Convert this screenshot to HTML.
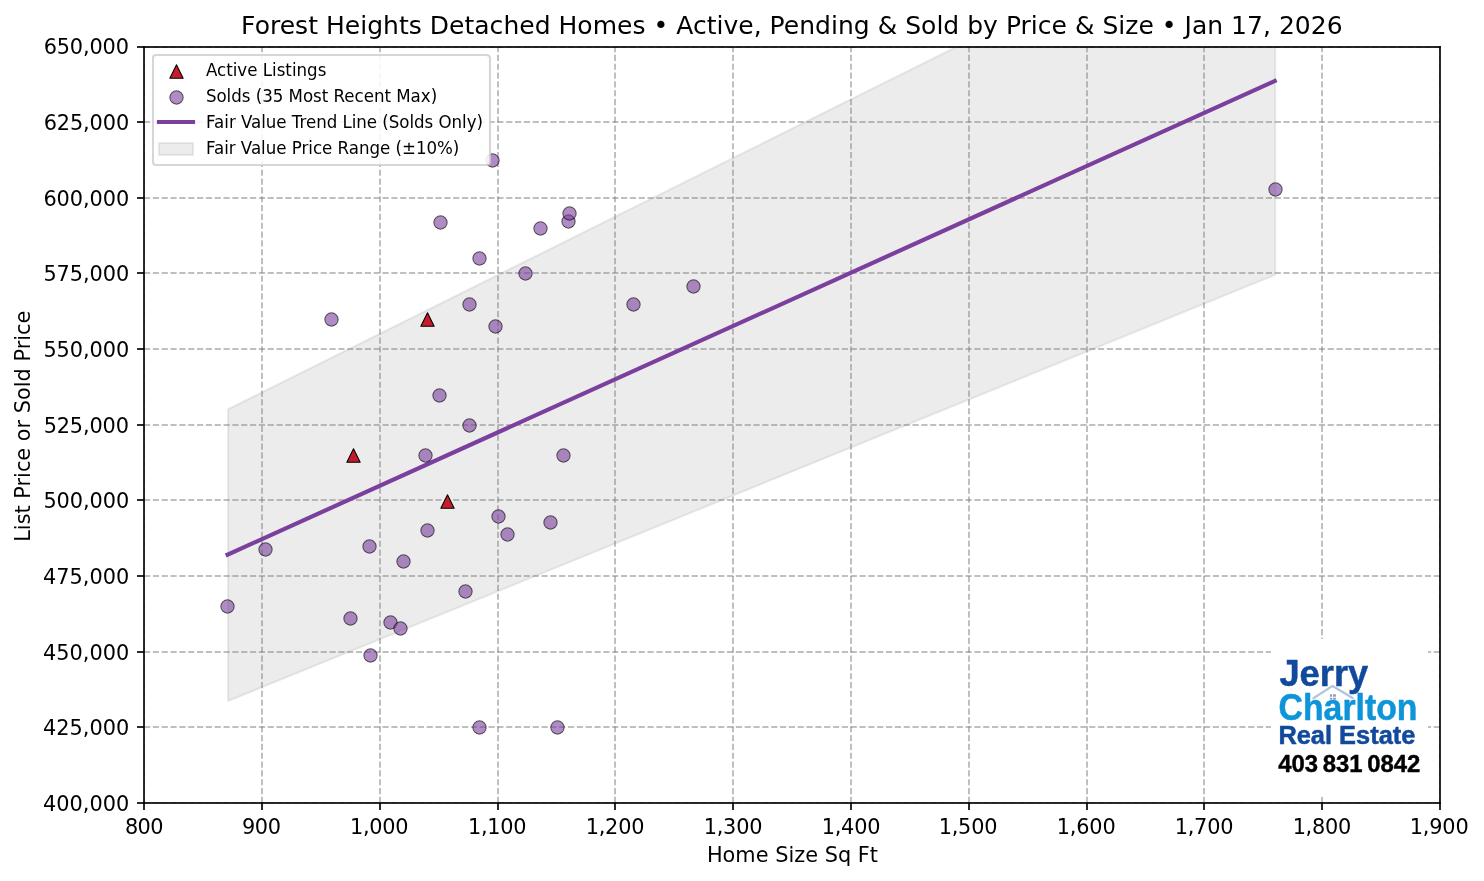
<!DOCTYPE html>
<html lang="en"><head><meta charset="utf-8"><title>Forest Heights Detached Homes</title>
<style>html,body{margin:0;padding:0;background:#fff}body{width:1484px;height:881px;overflow:hidden}svg{display:block}</style>
</head><body>
<svg width="1484" height="881" viewBox="0 0 1484 881" font-family="'DejaVu Sans','Liberation Sans',sans-serif" fill="#000">
<defs><clipPath id="ax"><rect x="144.17" y="46.5" width="1295.96" height="756.58"/></clipPath></defs>
<rect width="1484" height="881" fill="#fff"/>
<g clip-path="url(#ax)">
<path d="M228.08 409.25L228.08 701.04L1275.21 274.81L1275.21 -111.7L1275.21 -111.7L228.08 409.25Z" fill="#808080" fill-opacity="0.15" stroke="#808080" stroke-opacity="0.15" stroke-width="2.08" stroke-linejoin="round"/>
<line x1="144" y1="803" x2="144" y2="47" fill="none" stroke="#808080" stroke-opacity="0.5" stroke-width="2" stroke-dasharray="6.1667 2.6667" stroke-linejoin="round"/>
</g>
<line x1="144" y1="803" x2="144" y2="810" fill="none" stroke="#000000" stroke-opacity="0.83" stroke-width="2" stroke-linejoin="round"/>
<text x="124.99" y="834" font-size="20.83px" textLength="38.41" lengthAdjust="spacing">800</text>
<g clip-path="url(#ax)">
<line x1="262" y1="803" x2="262" y2="47" fill="none" stroke="#808080" stroke-opacity="0.5" stroke-width="2" stroke-dasharray="6.1667 2.6667" stroke-linejoin="round"/>
</g>
<line x1="262" y1="803" x2="262" y2="810" fill="none" stroke="#000000" stroke-opacity="0.83" stroke-width="2" stroke-linejoin="round"/>
<text x="242.02" y="834" font-size="20.83px" textLength="38.88" lengthAdjust="spacing">900</text>
<g clip-path="url(#ax)">
<line x1="380" y1="803" x2="380" y2="47" fill="none" stroke="#808080" stroke-opacity="0.5" stroke-width="2" stroke-dasharray="6.1667 2.6667" stroke-linejoin="round"/>
</g>
<line x1="380" y1="803" x2="380" y2="810" fill="none" stroke="#000000" stroke-opacity="0.83" stroke-width="2" stroke-linejoin="round"/>
<text x="350" y="834" font-size="20.83px" textLength="58.41" lengthAdjust="spacing">1,000</text>
<g clip-path="url(#ax)">
<line x1="498" y1="803" x2="498" y2="47" fill="none" stroke="#808080" stroke-opacity="0.5" stroke-width="2" stroke-dasharray="6.1667 2.6667" stroke-linejoin="round"/>
</g>
<line x1="498" y1="803" x2="498" y2="810" fill="none" stroke="#000000" stroke-opacity="0.83" stroke-width="2" stroke-linejoin="round"/>
<text x="467.91" y="834" font-size="20.83px" textLength="58.49" lengthAdjust="spacing">1,100</text>
<g clip-path="url(#ax)">
<line x1="615" y1="803" x2="615" y2="47" fill="none" stroke="#808080" stroke-opacity="0.5" stroke-width="2" stroke-dasharray="6.1667 2.6667" stroke-linejoin="round"/>
</g>
<line x1="615" y1="803" x2="615" y2="810" fill="none" stroke="#000000" stroke-opacity="0.83" stroke-width="2" stroke-linejoin="round"/>
<text x="585.65" y="834" font-size="20.83px" textLength="58.8" lengthAdjust="spacing">1,200</text>
<g clip-path="url(#ax)">
<line x1="733" y1="803" x2="733" y2="47" fill="none" stroke="#808080" stroke-opacity="0.5" stroke-width="2" stroke-dasharray="6.1667 2.6667" stroke-linejoin="round"/>
</g>
<line x1="733" y1="803" x2="733" y2="810" fill="none" stroke="#000000" stroke-opacity="0.83" stroke-width="2" stroke-linejoin="round"/>
<text x="703.67" y="834" font-size="20.83px" textLength="58.76" lengthAdjust="spacing">1,300</text>
<g clip-path="url(#ax)">
<line x1="851" y1="803" x2="851" y2="47" fill="none" stroke="#808080" stroke-opacity="0.5" stroke-width="2" stroke-dasharray="6.1667 2.6667" stroke-linejoin="round"/>
</g>
<line x1="851" y1="803" x2="851" y2="810" fill="none" stroke="#000000" stroke-opacity="0.83" stroke-width="2" stroke-linejoin="round"/>
<text x="821.66" y="834" font-size="20.83px" textLength="58.78" lengthAdjust="spacing">1,400</text>
<g clip-path="url(#ax)">
<line x1="969" y1="803" x2="969" y2="47" fill="none" stroke="#808080" stroke-opacity="0.5" stroke-width="2" stroke-dasharray="6.1667 2.6667" stroke-linejoin="round"/>
</g>
<line x1="969" y1="803" x2="969" y2="810" fill="none" stroke="#000000" stroke-opacity="0.83" stroke-width="2" stroke-linejoin="round"/>
<text x="938.63" y="834" font-size="20.83px" textLength="58.81" lengthAdjust="spacing">1,500</text>
<g clip-path="url(#ax)">
<line x1="1087" y1="803" x2="1087" y2="47" fill="none" stroke="#808080" stroke-opacity="0.5" stroke-width="2" stroke-dasharray="6.1667 2.6667" stroke-linejoin="round"/>
</g>
<line x1="1087" y1="803" x2="1087" y2="810" fill="none" stroke="#000000" stroke-opacity="0.83" stroke-width="2" stroke-linejoin="round"/>
<text x="1056.69" y="834" font-size="20.83px" textLength="58.97" lengthAdjust="spacing">1,600</text>
<g clip-path="url(#ax)">
<line x1="1204" y1="803" x2="1204" y2="47" fill="none" stroke="#808080" stroke-opacity="0.5" stroke-width="2" stroke-dasharray="6.1667 2.6667" stroke-linejoin="round"/>
</g>
<line x1="1204" y1="803" x2="1204" y2="810" fill="none" stroke="#000000" stroke-opacity="0.83" stroke-width="2" stroke-linejoin="round"/>
<text x="1174.69" y="834" font-size="20.83px" textLength="58.75" lengthAdjust="spacing">1,700</text>
<g clip-path="url(#ax)">
<line x1="1322" y1="803" x2="1322" y2="47" fill="none" stroke="#808080" stroke-opacity="0.5" stroke-width="2" stroke-dasharray="6.1667 2.6667" stroke-linejoin="round"/>
</g>
<line x1="1322" y1="803" x2="1322" y2="810" fill="none" stroke="#000000" stroke-opacity="0.83" stroke-width="2" stroke-linejoin="round"/>
<text x="1292.63" y="834" font-size="20.83px" textLength="58.52" lengthAdjust="spacing">1,800</text>
<g clip-path="url(#ax)">
<line x1="1440" y1="803" x2="1440" y2="47" fill="none" stroke="#808080" stroke-opacity="0.5" stroke-width="2" stroke-dasharray="6.1667 2.6667" stroke-linejoin="round"/>
</g>
<line x1="1440" y1="803" x2="1440" y2="810" fill="none" stroke="#000000" stroke-opacity="0.83" stroke-width="2" stroke-linejoin="round"/>
<text x="1409.63" y="834" font-size="20.83px" textLength="59.02" lengthAdjust="spacing">1,900</text>
<text x="706.88" y="862" font-size="20.83px" textLength="171.1" lengthAdjust="spacing">Home Size Sq Ft</text>
<g clip-path="url(#ax)">
<line x1="144" y1="803" x2="1440" y2="803" fill="none" stroke="#808080" stroke-opacity="0.5" stroke-width="2" stroke-dasharray="6.1667 2.6667" stroke-linejoin="round"/>
</g>
<line x1="144" y1="803" x2="137" y2="803" fill="none" stroke="#000000" stroke-opacity="0.83" stroke-width="2" stroke-linejoin="round"/>
<text x="43.02" y="811" font-size="20.83px" textLength="86.14" lengthAdjust="spacing">400,000</text>
<g clip-path="url(#ax)">
<line x1="144" y1="727" x2="1440" y2="727" fill="none" stroke="#808080" stroke-opacity="0.5" stroke-width="2" stroke-dasharray="6.1667 2.6667" stroke-linejoin="round"/>
</g>
<line x1="144" y1="727" x2="137" y2="727" fill="none" stroke="#000000" stroke-opacity="0.83" stroke-width="2" stroke-linejoin="round"/>
<text x="42.9" y="735" font-size="20.83px" textLength="86.33" lengthAdjust="spacing">425,000</text>
<g clip-path="url(#ax)">
<line x1="144" y1="652" x2="1440" y2="652" fill="none" stroke="#808080" stroke-opacity="0.5" stroke-width="2" stroke-dasharray="6.1667 2.6667" stroke-linejoin="round"/>
</g>
<line x1="144" y1="652" x2="137" y2="652" fill="none" stroke="#000000" stroke-opacity="0.83" stroke-width="2" stroke-linejoin="round"/>
<text x="42.9" y="660" font-size="20.83px" textLength="86.31" lengthAdjust="spacing">450,000</text>
<g clip-path="url(#ax)">
<line x1="144" y1="576" x2="1440" y2="576" fill="none" stroke="#808080" stroke-opacity="0.5" stroke-width="2" stroke-dasharray="6.1667 2.6667" stroke-linejoin="round"/>
</g>
<line x1="144" y1="576" x2="137" y2="576" fill="none" stroke="#000000" stroke-opacity="0.83" stroke-width="2" stroke-linejoin="round"/>
<text x="42.93" y="584" font-size="20.83px" textLength="86.27" lengthAdjust="spacing">475,000</text>
<g clip-path="url(#ax)">
<line x1="144" y1="500" x2="1440" y2="500" fill="none" stroke="#808080" stroke-opacity="0.5" stroke-width="2" stroke-dasharray="6.1667 2.6667" stroke-linejoin="round"/>
</g>
<line x1="144" y1="500" x2="137" y2="500" fill="none" stroke="#000000" stroke-opacity="0.83" stroke-width="2" stroke-linejoin="round"/>
<text x="43.39" y="508" font-size="20.83px" textLength="85.78" lengthAdjust="spacing">500,000</text>
<g clip-path="url(#ax)">
<line x1="144" y1="425" x2="1440" y2="425" fill="none" stroke="#808080" stroke-opacity="0.5" stroke-width="2" stroke-dasharray="6.1667 2.6667" stroke-linejoin="round"/>
</g>
<line x1="144" y1="425" x2="137" y2="425" fill="none" stroke="#000000" stroke-opacity="0.83" stroke-width="2" stroke-linejoin="round"/>
<text x="43.65" y="433" font-size="20.83px" textLength="85.26" lengthAdjust="spacing">525,000</text>
<g clip-path="url(#ax)">
<line x1="144" y1="349" x2="1440" y2="349" fill="none" stroke="#808080" stroke-opacity="0.5" stroke-width="2" stroke-dasharray="6.1667 2.6667" stroke-linejoin="round"/>
</g>
<line x1="144" y1="349" x2="137" y2="349" fill="none" stroke="#000000" stroke-opacity="0.83" stroke-width="2" stroke-linejoin="round"/>
<text x="43.39" y="357" font-size="20.83px" textLength="85.78" lengthAdjust="spacing">550,000</text>
<g clip-path="url(#ax)">
<line x1="144" y1="273" x2="1440" y2="273" fill="none" stroke="#808080" stroke-opacity="0.5" stroke-width="2" stroke-dasharray="6.1667 2.6667" stroke-linejoin="round"/>
</g>
<line x1="144" y1="273" x2="137" y2="273" fill="none" stroke="#000000" stroke-opacity="0.83" stroke-width="2" stroke-linejoin="round"/>
<text x="43.42" y="281" font-size="20.83px" textLength="85.76" lengthAdjust="spacing">575,000</text>
<g clip-path="url(#ax)">
<line x1="144" y1="198" x2="1440" y2="198" fill="none" stroke="#808080" stroke-opacity="0.5" stroke-width="2" stroke-dasharray="6.1667 2.6667" stroke-linejoin="round"/>
</g>
<line x1="144" y1="198" x2="137" y2="198" fill="none" stroke="#000000" stroke-opacity="0.83" stroke-width="2" stroke-linejoin="round"/>
<text x="43.38" y="206" font-size="20.83px" textLength="85.8" lengthAdjust="spacing">600,000</text>
<g clip-path="url(#ax)">
<line x1="144" y1="122" x2="1440" y2="122" fill="none" stroke="#808080" stroke-opacity="0.5" stroke-width="2" stroke-dasharray="6.1667 2.6667" stroke-linejoin="round"/>
</g>
<line x1="144" y1="122" x2="137" y2="122" fill="none" stroke="#000000" stroke-opacity="0.83" stroke-width="2" stroke-linejoin="round"/>
<text x="43.64" y="130" font-size="20.83px" textLength="85.52" lengthAdjust="spacing">625,000</text>
<g clip-path="url(#ax)">
<line x1="144" y1="47" x2="1440" y2="47" fill="none" stroke="#808080" stroke-opacity="0.5" stroke-width="2" stroke-dasharray="6.1667 2.6667" stroke-linejoin="round"/>
</g>
<line x1="144" y1="47" x2="137" y2="47" fill="none" stroke="#000000" stroke-opacity="0.83" stroke-width="2" stroke-linejoin="round"/>
<text x="43.63" y="54" font-size="20.83px" textLength="85.29" lengthAdjust="spacing">650,000</text>
<text transform="translate(30 541.74) rotate(-90)" font-size="20.83px" textLength="231.04" lengthAdjust="spacing">List Price or Sold Price</text>
<g clip-path="url(#ax)">
<line x1="227.58" y1="554.64" x2="1274.71" y2="81.05" fill="none" stroke="#7b3f9d" stroke-width="4.17" stroke-linecap="square" stroke-linejoin="round"/>
</g>
<line x1="144" y1="803.83" x2="144" y2="46.17" fill="none" stroke="#000000" stroke-opacity="0.83" stroke-width="2"/>
<line x1="1440" y1="803.83" x2="1440" y2="46.17" fill="none" stroke="#000000" stroke-opacity="0.83" stroke-width="2"/>
<line x1="143.17" y1="803" x2="1440.83" y2="803" fill="none" stroke="#000000" stroke-opacity="0.83" stroke-width="2"/>
<line x1="143.17" y1="47" x2="1440.83" y2="47" fill="none" stroke="#000000" stroke-opacity="0.83" stroke-width="2"/>
<g clip-path="url(#ax)">
<circle cx="227.5" cy="606.5" r="6.67" fill="#7b3f9d" fill-opacity="0.6" stroke="#000000" stroke-opacity="0.6" stroke-width="1.04" stroke-linejoin="round"/>
<circle cx="265.5" cy="549.5" r="6.67" fill="#7b3f9d" fill-opacity="0.6" stroke="#000000" stroke-opacity="0.6" stroke-width="1.04" stroke-linejoin="round"/>
<circle cx="331.5" cy="319.5" r="6.67" fill="#7b3f9d" fill-opacity="0.6" stroke="#000000" stroke-opacity="0.6" stroke-width="1.04" stroke-linejoin="round"/>
<circle cx="350.5" cy="618.5" r="6.67" fill="#7b3f9d" fill-opacity="0.6" stroke="#000000" stroke-opacity="0.6" stroke-width="1.04" stroke-linejoin="round"/>
<circle cx="370.5" cy="655.5" r="6.67" fill="#7b3f9d" fill-opacity="0.6" stroke="#000000" stroke-opacity="0.6" stroke-width="1.04" stroke-linejoin="round"/>
<circle cx="369.5" cy="546.5" r="6.67" fill="#7b3f9d" fill-opacity="0.6" stroke="#000000" stroke-opacity="0.6" stroke-width="1.04" stroke-linejoin="round"/>
<circle cx="390.5" cy="622.5" r="6.67" fill="#7b3f9d" fill-opacity="0.6" stroke="#000000" stroke-opacity="0.6" stroke-width="1.04" stroke-linejoin="round"/>
<circle cx="400.5" cy="628.5" r="6.67" fill="#7b3f9d" fill-opacity="0.6" stroke="#000000" stroke-opacity="0.6" stroke-width="1.04" stroke-linejoin="round"/>
<circle cx="403.5" cy="561.5" r="6.67" fill="#7b3f9d" fill-opacity="0.6" stroke="#000000" stroke-opacity="0.6" stroke-width="1.04" stroke-linejoin="round"/>
<circle cx="425.5" cy="455.5" r="6.67" fill="#7b3f9d" fill-opacity="0.6" stroke="#000000" stroke-opacity="0.6" stroke-width="1.04" stroke-linejoin="round"/>
<circle cx="427.5" cy="530.5" r="6.67" fill="#7b3f9d" fill-opacity="0.6" stroke="#000000" stroke-opacity="0.6" stroke-width="1.04" stroke-linejoin="round"/>
<circle cx="440.5" cy="222.5" r="6.67" fill="#7b3f9d" fill-opacity="0.6" stroke="#000000" stroke-opacity="0.6" stroke-width="1.04" stroke-linejoin="round"/>
<circle cx="439.5" cy="395.5" r="6.67" fill="#7b3f9d" fill-opacity="0.6" stroke="#000000" stroke-opacity="0.6" stroke-width="1.04" stroke-linejoin="round"/>
<circle cx="465.5" cy="591.5" r="6.67" fill="#7b3f9d" fill-opacity="0.6" stroke="#000000" stroke-opacity="0.6" stroke-width="1.04" stroke-linejoin="round"/>
<circle cx="469.5" cy="304.5" r="6.67" fill="#7b3f9d" fill-opacity="0.6" stroke="#000000" stroke-opacity="0.6" stroke-width="1.04" stroke-linejoin="round"/>
<circle cx="469.5" cy="425.5" r="6.67" fill="#7b3f9d" fill-opacity="0.6" stroke="#000000" stroke-opacity="0.6" stroke-width="1.04" stroke-linejoin="round"/>
<circle cx="479.5" cy="258.5" r="6.67" fill="#7b3f9d" fill-opacity="0.6" stroke="#000000" stroke-opacity="0.6" stroke-width="1.04" stroke-linejoin="round"/>
<circle cx="479.5" cy="727.5" r="6.67" fill="#7b3f9d" fill-opacity="0.6" stroke="#000000" stroke-opacity="0.6" stroke-width="1.04" stroke-linejoin="round"/>
<circle cx="492.5" cy="160.5" r="6.67" fill="#7b3f9d" fill-opacity="0.6" stroke="#000000" stroke-opacity="0.6" stroke-width="1.04" stroke-linejoin="round"/>
<circle cx="495.5" cy="326.5" r="6.67" fill="#7b3f9d" fill-opacity="0.6" stroke="#000000" stroke-opacity="0.6" stroke-width="1.04" stroke-linejoin="round"/>
<circle cx="498.5" cy="516.5" r="6.67" fill="#7b3f9d" fill-opacity="0.6" stroke="#000000" stroke-opacity="0.6" stroke-width="1.04" stroke-linejoin="round"/>
<circle cx="507.5" cy="534.5" r="6.67" fill="#7b3f9d" fill-opacity="0.6" stroke="#000000" stroke-opacity="0.6" stroke-width="1.04" stroke-linejoin="round"/>
<circle cx="525.5" cy="273.5" r="6.67" fill="#7b3f9d" fill-opacity="0.6" stroke="#000000" stroke-opacity="0.6" stroke-width="1.04" stroke-linejoin="round"/>
<circle cx="540.5" cy="228.5" r="6.67" fill="#7b3f9d" fill-opacity="0.6" stroke="#000000" stroke-opacity="0.6" stroke-width="1.04" stroke-linejoin="round"/>
<circle cx="550.5" cy="522.5" r="6.67" fill="#7b3f9d" fill-opacity="0.6" stroke="#000000" stroke-opacity="0.6" stroke-width="1.04" stroke-linejoin="round"/>
<circle cx="557.5" cy="727.5" r="6.67" fill="#7b3f9d" fill-opacity="0.6" stroke="#000000" stroke-opacity="0.6" stroke-width="1.04" stroke-linejoin="round"/>
<circle cx="563.5" cy="455.5" r="6.67" fill="#7b3f9d" fill-opacity="0.6" stroke="#000000" stroke-opacity="0.6" stroke-width="1.04" stroke-linejoin="round"/>
<circle cx="568.5" cy="221.5" r="6.67" fill="#7b3f9d" fill-opacity="0.6" stroke="#000000" stroke-opacity="0.6" stroke-width="1.04" stroke-linejoin="round"/>
<circle cx="569.5" cy="213.5" r="6.67" fill="#7b3f9d" fill-opacity="0.6" stroke="#000000" stroke-opacity="0.6" stroke-width="1.04" stroke-linejoin="round"/>
<circle cx="633.5" cy="304.5" r="6.67" fill="#7b3f9d" fill-opacity="0.6" stroke="#000000" stroke-opacity="0.6" stroke-width="1.04" stroke-linejoin="round"/>
<circle cx="693.5" cy="286.5" r="6.67" fill="#7b3f9d" fill-opacity="0.6" stroke="#000000" stroke-opacity="0.6" stroke-width="1.04" stroke-linejoin="round"/>
<circle cx="1275.5" cy="189.5" r="6.67" fill="#7b3f9d" fill-opacity="0.6" stroke="#000000" stroke-opacity="0.6" stroke-width="1.04" stroke-linejoin="round"/>
</g>
<text x="241.12" y="34" font-size="25px" textLength="1101.45" lengthAdjust="spacing">Forest Heights Detached Homes • Active, Pending &amp; Sold by Price &amp; Size • Jan 17, 2026</text>
<g clip-path="url(#ax)">
<path d="M427.5 312.83L420.83 326.17L434.17 326.17Z" fill="#c41c2b" stroke="#000000" stroke-width="1.04" stroke-linejoin="round"/>
<path d="M353.5 448.83L346.83 462.17L360.17 462.17Z" fill="#c41c2b" stroke="#000000" stroke-width="1.04" stroke-linejoin="round"/>
<path d="M447.5 494.83L440.83 508.17L454.17 508.17Z" fill="#c41c2b" stroke="#000000" stroke-width="1.04" stroke-linejoin="round"/>
</g>
<path d="M156 165L486 165Q490 165 490 162L490 58Q490 55 486 55L156 55Q153 55 153 58L153 162Q153 165 156 165Z" fill="#ffffff" fill-opacity="0.88" stroke="#cccccc" stroke-opacity="0.8" stroke-width="2.08"/>
<path d="M176.5 64.83L169.83 78.17L183.17 78.17Z" fill="#c41c2b" stroke="#000000" stroke-width="1.04" stroke-linejoin="round"/>
<text transform="translate(205.91 76) scale(1 1.0300)" font-size="16.67px" textLength="120.44" lengthAdjust="spacing">Active Listings</text>
<circle cx="176.5" cy="97.5" r="6.67" fill="#7b3f9d" fill-opacity="0.6" stroke="#000000" stroke-opacity="0.6" stroke-width="1.04" stroke-linejoin="round"/>
<text transform="translate(205.91 102) scale(1 1.0300)" font-size="16.67px" textLength="231.25" lengthAdjust="spacing">Solds (35 Most Recent Max)</text>
<path d="M159 122L176 122L193 122" fill="none" stroke="#7b3f9d" stroke-width="4.17" stroke-linecap="square" stroke-linejoin="round"/>
<text transform="translate(206.11 128) scale(1 1.0300)" font-size="16.67px" textLength="276.94" lengthAdjust="spacing">Fair Value Trend Line (Solds Only)</text>
<path d="M159 155L193 155L193 143L159 143Z" fill="#808080" fill-opacity="0.15" stroke="#808080" stroke-opacity="0.15" stroke-width="2.08"/>
<text transform="translate(205.94 154) scale(1 1.0300)" font-size="16.67px" textLength="253.44" lengthAdjust="spacing">Fair Value Price Range (±10%)</text>
<g font-family="'Liberation Sans','DejaVu Sans',sans-serif" font-weight="700" stroke-linejoin="round">
<rect x="1271" y="639" width="157" height="157.5" fill="#fff"/>
<text x="1279.4" y="685.9" font-size="37.4px" fill="#114a9c" stroke="#114a9c" stroke-width="0.5" textLength="88.8" lengthAdjust="spacingAndGlyphs">Jerry</text>
<path d="M1313.4 698.2L1332.6 685.9L1352.6 698.1" fill="none" stroke="#b3c4dc" stroke-width="2.3" stroke-linecap="round"/>
<path d="M1329.9 694.3h2.1v2.4h-2.1zM1332.9 694.3h3v2.4h-3zM1329.9 697.8h2.1v2h-2.1zM1332.9 697.8h3v2h-3z" fill="#8b9ecf"/>
<text x="1278.6" y="720" font-size="37.2px" fill="#0d94d9" stroke="#0d94d9" stroke-width="0.5" textLength="138.8" lengthAdjust="spacingAndGlyphs">Charlton</text>
<text x="1278.4" y="743.6" font-size="25.4px" fill="#114a9c" stroke="#114a9c" stroke-width="0.5" textLength="137" lengthAdjust="spacingAndGlyphs">Real Estate</text>
<text x="1278.2" y="771.6" font-size="23px" fill="#000" stroke="#000" stroke-width="0.4" word-spacing="-1.9px" textLength="142.2" lengthAdjust="spacingAndGlyphs">403 831 0842</text>
</g>

</svg>
</body></html>
